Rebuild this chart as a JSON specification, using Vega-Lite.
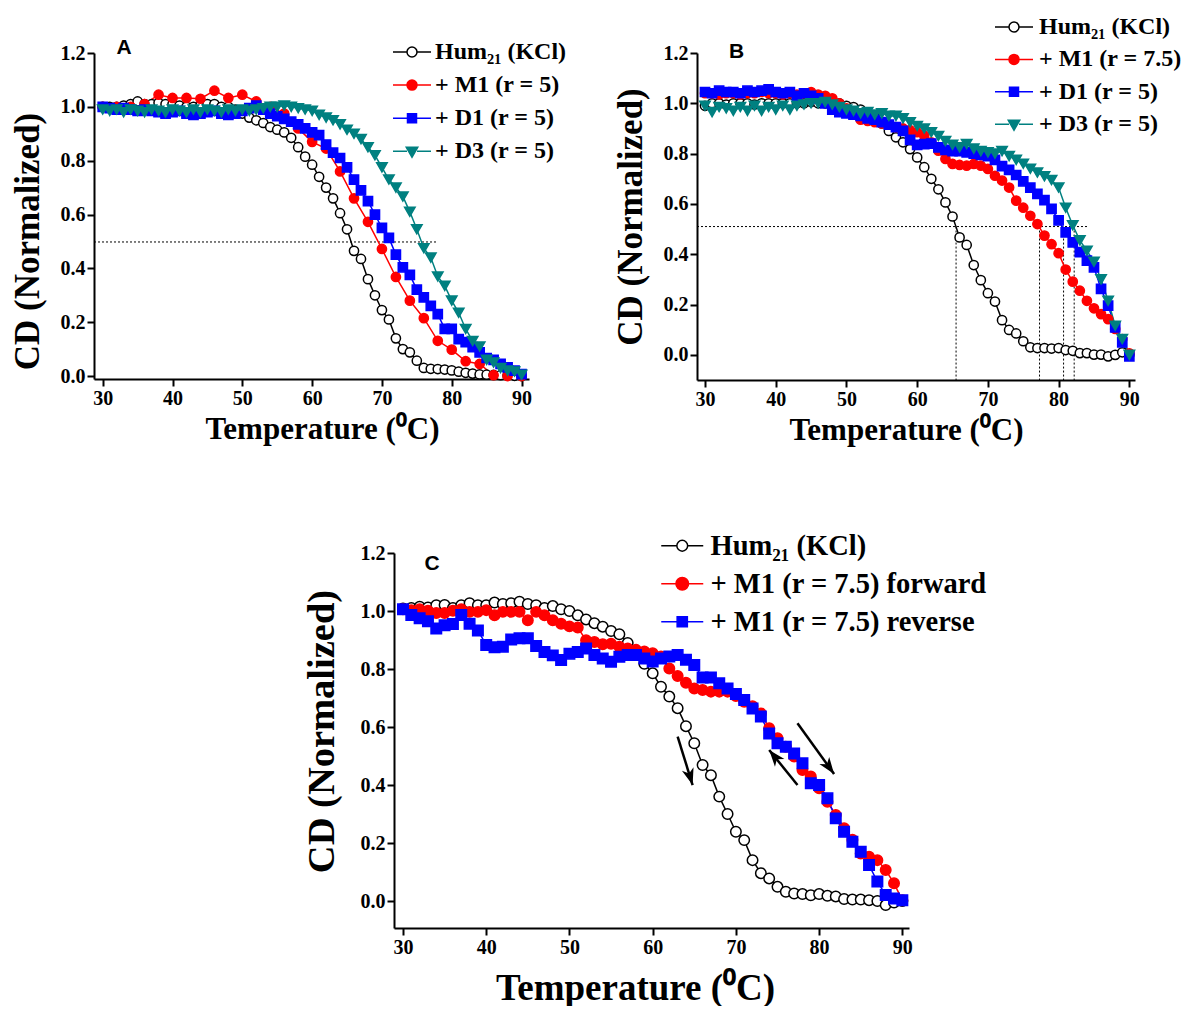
{
"$schema":"https://vega.github.io/schema/vega-lite/v6.json",
"padding":{"left":10,"top":15,"right":0,"bottom":0},
"background":"white",
"config":{
 "view":{"stroke":null},
 "axis":{"domainColor":"black","domainWidth":2,"tickColor":"black","tickWidth":2,"tickSize":7,"labelFont":"Liberation Serif","labelFontWeight":"bold","labelFontSize":20,"labelColor":"black","titleFont":"Liberation Serif","titleFontWeight":"bold","titleColor":"black","grid":false,"labelPadding":2,"labelFlush":false,"labelOverlap":false}
},
"datasets":{
"A":[
{"s":"Hum","t":30,"v":1.0},{"s":"Hum","t":31,"v":1.0},{"s":"Hum","t":32,"v":1.0},{"s":"Hum","t":33,"v":1.005},{"s":"Hum","t":34,"v":1.01},{"s":"Hum","t":35,"v":1.02},{"s":"Hum","t":36,"v":1.01},{"s":"Hum","t":37,"v":1.01},{"s":"Hum","t":38,"v":1.015},{"s":"Hum","t":39,"v":1.01},
{"s":"Hum","t":40,"v":1.01},{"s":"Hum","t":41,"v":1.005},{"s":"Hum","t":42,"v":1.0},{"s":"Hum","t":43,"v":1.0},{"s":"Hum","t":44,"v":1.005},{"s":"Hum","t":45,"v":1.01},{"s":"Hum","t":46,"v":1.01},{"s":"Hum","t":47,"v":1.0},{"s":"Hum","t":48,"v":1.0},{"s":"Hum","t":49,"v":0.99},
{"s":"Hum","t":50,"v":0.975},{"s":"Hum","t":51,"v":0.96},{"s":"Hum","t":52,"v":0.95},{"s":"Hum","t":53,"v":0.94},{"s":"Hum","t":54,"v":0.925},{"s":"Hum","t":55,"v":0.915},{"s":"Hum","t":56,"v":0.905},{"s":"Hum","t":57,"v":0.885},{"s":"Hum","t":58,"v":0.85},{"s":"Hum","t":59,"v":0.815},
{"s":"Hum","t":60,"v":0.785},{"s":"Hum","t":61,"v":0.74},{"s":"Hum","t":62,"v":0.7},{"s":"Hum","t":63,"v":0.66},{"s":"Hum","t":64,"v":0.605},{"s":"Hum","t":65,"v":0.545},{"s":"Hum","t":66,"v":0.465},{"s":"Hum","t":67,"v":0.435},{"s":"Hum","t":68,"v":0.36},{"s":"Hum","t":69,"v":0.3},
{"s":"Hum","t":70,"v":0.245},{"s":"Hum","t":71,"v":0.21},{"s":"Hum","t":72,"v":0.14},{"s":"Hum","t":73,"v":0.1},{"s":"Hum","t":74,"v":0.088},{"s":"Hum","t":75,"v":0.057},{"s":"Hum","t":76,"v":0.03},{"s":"Hum","t":77,"v":0.027},{"s":"Hum","t":78,"v":0.026},{"s":"Hum","t":79,"v":0.024},
{"s":"Hum","t":80,"v":0.021},{"s":"Hum","t":81,"v":0.016},{"s":"Hum","t":82,"v":0.012},{"s":"Hum","t":83,"v":0.009},{"s":"Hum","t":84,"v":0.006},{"s":"Hum","t":85,"v":0.005},{"s":"Hum","t":86,"v":0.004},{"s":"Hum","t":87,"v":0.003},{"s":"Hum","t":88,"v":0.002},{"s":"Hum","t":89,"v":0.001},{"s":"Hum","t":90,"v":0.0},
{"s":"M1","t":30,"v":1.0},{"s":"M1","t":32,"v":1.0},{"s":"M1","t":34,"v":1.0},{"s":"M1","t":36,"v":1.01},{"s":"M1","t":38,"v":1.045},{"s":"M1","t":40,"v":1.033},{"s":"M1","t":42,"v":1.033},{"s":"M1","t":44,"v":1.03},{"s":"M1","t":46,"v":1.06},{"s":"M1","t":48,"v":1.033},
{"s":"M1","t":50,"v":1.045},{"s":"M1","t":52,"v":1.02},{"s":"M1","t":54,"v":1.0},{"s":"M1","t":56,"v":0.975},{"s":"M1","t":58,"v":0.92},{"s":"M1","t":60,"v":0.87},{"s":"M1","t":62,"v":0.845},{"s":"M1","t":64,"v":0.76},{"s":"M1","t":66,"v":0.66},{"s":"M1","t":68,"v":0.573},
{"s":"M1","t":70,"v":0.472},{"s":"M1","t":72,"v":0.368},{"s":"M1","t":74,"v":0.28},{"s":"M1","t":76,"v":0.215},{"s":"M1","t":78,"v":0.131},{"s":"M1","t":80,"v":0.098},{"s":"M1","t":82,"v":0.055},{"s":"M1","t":84,"v":0.045},{"s":"M1","t":86,"v":0.003},{"s":"M1","t":88,"v":0.0},{"s":"M1","t":90,"v":0.0},
{"s":"D1","t":30,"v":1.0},{"s":"D1","t":31,"v":0.995},{"s":"D1","t":32,"v":0.99},{"s":"D1","t":33,"v":0.995},{"s":"D1","t":34,"v":0.99},{"s":"D1","t":35,"v":0.985},{"s":"D1","t":36,"v":0.99},{"s":"D1","t":37,"v":0.985},{"s":"D1","t":38,"v":0.98},{"s":"D1","t":39,"v":0.975},
{"s":"D1","t":40,"v":0.98},{"s":"D1","t":41,"v":0.985},{"s":"D1","t":42,"v":0.975},{"s":"D1","t":43,"v":0.97},{"s":"D1","t":44,"v":0.975},{"s":"D1","t":45,"v":0.98},{"s":"D1","t":46,"v":0.985},{"s":"D1","t":47,"v":0.975},{"s":"D1","t":48,"v":0.97},{"s":"D1","t":49,"v":0.975},
{"s":"D1","t":50,"v":0.985},{"s":"D1","t":51,"v":0.995},{"s":"D1","t":52,"v":1.005},{"s":"D1","t":53,"v":0.99},{"s":"D1","t":54,"v":0.975},{"s":"D1","t":55,"v":0.965},{"s":"D1","t":56,"v":0.955},{"s":"D1","t":57,"v":0.945},{"s":"D1","t":58,"v":0.935},{"s":"D1","t":59,"v":0.92},
{"s":"D1","t":60,"v":0.905},{"s":"D1","t":61,"v":0.895},{"s":"D1","t":62,"v":0.86},{"s":"D1","t":63,"v":0.83},{"s":"D1","t":64,"v":0.81},{"s":"D1","t":65,"v":0.775},{"s":"D1","t":66,"v":0.73},{"s":"D1","t":67,"v":0.69},{"s":"D1","t":68,"v":0.65},{"s":"D1","t":69,"v":0.6},
{"s":"D1","t":70,"v":0.55},{"s":"D1","t":71,"v":0.513},{"s":"D1","t":72,"v":0.451},{"s":"D1","t":73,"v":0.404},{"s":"D1","t":74,"v":0.376},{"s":"D1","t":75,"v":0.321},{"s":"D1","t":76,"v":0.292},{"s":"D1","t":77,"v":0.261},{"s":"D1","t":78,"v":0.23},{"s":"D1","t":79,"v":0.175},
{"s":"D1","t":80,"v":0.175},{"s":"D1","t":81,"v":0.137},{"s":"D1","t":82,"v":0.126},{"s":"D1","t":83,"v":0.107},{"s":"D1","t":84,"v":0.088},{"s":"D1","t":85,"v":0.067},{"s":"D1","t":86,"v":0.06},{"s":"D1","t":87,"v":0.045},{"s":"D1","t":88,"v":0.032},{"s":"D1","t":89,"v":0.02},{"s":"D1","t":90,"v":0.007},
{"s":"D3","t":30,"v":0.99},{"s":"D3","t":31,"v":0.985},{"s":"D3","t":32,"v":0.99},{"s":"D3","t":33,"v":0.98},{"s":"D3","t":34,"v":0.99},{"s":"D3","t":35,"v":0.985},{"s":"D3","t":36,"v":0.98},{"s":"D3","t":37,"v":0.99},{"s":"D3","t":38,"v":0.985},{"s":"D3","t":39,"v":0.98},
{"s":"D3","t":40,"v":0.99},{"s":"D3","t":41,"v":0.985},{"s":"D3","t":42,"v":0.98},{"s":"D3","t":43,"v":0.99},{"s":"D3","t":44,"v":0.98},{"s":"D3","t":45,"v":0.99},{"s":"D3","t":46,"v":0.985},{"s":"D3","t":47,"v":0.98},{"s":"D3","t":48,"v":0.99},{"s":"D3","t":49,"v":0.985},
{"s":"D3","t":50,"v":0.99},{"s":"D3","t":51,"v":0.985},{"s":"D3","t":52,"v":0.99},{"s":"D3","t":53,"v":0.995},{"s":"D3","t":54,"v":1.0},{"s":"D3","t":55,"v":1.0},{"s":"D3","t":56,"v":1.005},{"s":"D3","t":57,"v":1.0},{"s":"D3","t":58,"v":0.995},{"s":"D3","t":59,"v":0.99},
{"s":"D3","t":60,"v":0.985},{"s":"D3","t":61,"v":0.97},{"s":"D3","t":62,"v":0.96},{"s":"D3","t":63,"v":0.95},{"s":"D3","t":64,"v":0.935},{"s":"D3","t":65,"v":0.915},{"s":"D3","t":66,"v":0.9},{"s":"D3","t":67,"v":0.88},{"s":"D3","t":68,"v":0.85},{"s":"D3","t":69,"v":0.82},
{"s":"D3","t":70,"v":0.775},{"s":"D3","t":71,"v":0.73},{"s":"D3","t":72,"v":0.7},{"s":"D3","t":73,"v":0.667},{"s":"D3","t":74,"v":0.61},{"s":"D3","t":75,"v":0.545},{"s":"D3","t":76,"v":0.475},{"s":"D3","t":77,"v":0.44},{"s":"D3","t":78,"v":0.37},{"s":"D3","t":79,"v":0.335},
{"s":"D3","t":80,"v":0.28},{"s":"D3","t":81,"v":0.235},{"s":"D3","t":82,"v":0.175},{"s":"D3","t":83,"v":0.13},{"s":"D3","t":84,"v":0.11},{"s":"D3","t":85,"v":0.06},{"s":"D3","t":86,"v":0.05},{"s":"D3","t":87,"v":0.03},{"s":"D3","t":88,"v":0.02},{"s":"D3","t":89,"v":0.017},{"s":"D3","t":90,"v":0.005}
],
"B":[
{"s":"Hum","t":30,"v":0.99},{"s":"Hum","t":31,"v":1.0},{"s":"Hum","t":32,"v":1.0},{"s":"Hum","t":33,"v":0.995},{"s":"Hum","t":34,"v":1.0},{"s":"Hum","t":35,"v":1.0},{"s":"Hum","t":36,"v":1.0},{"s":"Hum","t":37,"v":0.995},{"s":"Hum","t":38,"v":1.0},{"s":"Hum","t":39,"v":1.0},
{"s":"Hum","t":40,"v":1.0},{"s":"Hum","t":41,"v":1.0},{"s":"Hum","t":42,"v":1.0},{"s":"Hum","t":43,"v":1.0},{"s":"Hum","t":44,"v":1.0},{"s":"Hum","t":45,"v":1.005},{"s":"Hum","t":46,"v":1.0},{"s":"Hum","t":47,"v":1.0},{"s":"Hum","t":48,"v":1.0},{"s":"Hum","t":49,"v":1.0},
{"s":"Hum","t":50,"v":0.99},{"s":"Hum","t":51,"v":0.985},{"s":"Hum","t":52,"v":0.975},{"s":"Hum","t":53,"v":0.96},{"s":"Hum","t":54,"v":0.944},{"s":"Hum","t":55,"v":0.92},{"s":"Hum","t":56,"v":0.89},{"s":"Hum","t":57,"v":0.865},{"s":"Hum","t":58,"v":0.845},{"s":"Hum","t":59,"v":0.818},
{"s":"Hum","t":60,"v":0.785},{"s":"Hum","t":61,"v":0.746},{"s":"Hum","t":62,"v":0.7},{"s":"Hum","t":63,"v":0.658},{"s":"Hum","t":64,"v":0.606},{"s":"Hum","t":65,"v":0.55},{"s":"Hum","t":66,"v":0.467},{"s":"Hum","t":67,"v":0.437},{"s":"Hum","t":68,"v":0.357},{"s":"Hum","t":69,"v":0.297},
{"s":"Hum","t":70,"v":0.245},{"s":"Hum","t":71,"v":0.212},{"s":"Hum","t":72,"v":0.138},{"s":"Hum","t":73,"v":0.099},{"s":"Hum","t":74,"v":0.085},{"s":"Hum","t":75,"v":0.054},{"s":"Hum","t":76,"v":0.03},{"s":"Hum","t":77,"v":0.027},{"s":"Hum","t":78,"v":0.027},{"s":"Hum","t":79,"v":0.025},
{"s":"Hum","t":80,"v":0.027},{"s":"Hum","t":81,"v":0.019},{"s":"Hum","t":82,"v":0.016},{"s":"Hum","t":83,"v":0.007},{"s":"Hum","t":84,"v":0.007},{"s":"Hum","t":85,"v":0.001},{"s":"Hum","t":86,"v":0.001},{"s":"Hum","t":87,"v":-0.006},{"s":"Hum","t":88,"v":0.0},{"s":"Hum","t":89,"v":0.01},{"s":"Hum","t":90,"v":0.0},
{"s":"M1","t":30,"v":1.04},{"s":"M1","t":31,"v":1.04},{"s":"M1","t":32,"v":1.035},{"s":"M1","t":33,"v":1.04},{"s":"M1","t":34,"v":1.04},{"s":"M1","t":35,"v":1.035},{"s":"M1","t":36,"v":1.04},{"s":"M1","t":37,"v":1.04},{"s":"M1","t":38,"v":1.045},{"s":"M1","t":39,"v":1.04},
{"s":"M1","t":40,"v":1.04},{"s":"M1","t":41,"v":1.035},{"s":"M1","t":42,"v":1.04},{"s":"M1","t":43,"v":1.035},{"s":"M1","t":44,"v":1.04},{"s":"M1","t":45,"v":1.045},{"s":"M1","t":46,"v":1.035},{"s":"M1","t":47,"v":1.03},{"s":"M1","t":48,"v":1.02},{"s":"M1","t":49,"v":1.0},
{"s":"M1","t":50,"v":0.98},{"s":"M1","t":51,"v":0.955},{"s":"M1","t":52,"v":0.935},{"s":"M1","t":53,"v":0.93},{"s":"M1","t":54,"v":0.925},{"s":"M1","t":55,"v":0.92},{"s":"M1","t":56,"v":0.915},{"s":"M1","t":57,"v":0.905},{"s":"M1","t":58,"v":0.9},{"s":"M1","t":59,"v":0.893},
{"s":"M1","t":60,"v":0.885},{"s":"M1","t":61,"v":0.872},{"s":"M1","t":62,"v":0.845},{"s":"M1","t":63,"v":0.812},{"s":"M1","t":64,"v":0.779},{"s":"M1","t":65,"v":0.759},{"s":"M1","t":66,"v":0.755},{"s":"M1","t":67,"v":0.752},{"s":"M1","t":68,"v":0.759},{"s":"M1","t":69,"v":0.752},
{"s":"M1","t":70,"v":0.739},{"s":"M1","t":71,"v":0.712},{"s":"M1","t":72,"v":0.693},{"s":"M1","t":73,"v":0.665},{"s":"M1","t":74,"v":0.613},{"s":"M1","t":75,"v":0.585},{"s":"M1","t":76,"v":0.553},{"s":"M1","t":77,"v":0.52},{"s":"M1","t":78,"v":0.474},{"s":"M1","t":79,"v":0.44},
{"s":"M1","t":80,"v":0.404},{"s":"M1","t":81,"v":0.339},{"s":"M1","t":82,"v":0.291},{"s":"M1","t":83,"v":0.255},{"s":"M1","t":84,"v":0.215},{"s":"M1","t":85,"v":0.185},{"s":"M1","t":86,"v":0.162},{"s":"M1","t":87,"v":0.142},{"s":"M1","t":88,"v":0.103},{"s":"M1","t":89,"v":0.063},{"s":"M1","t":90,"v":0.006},
{"s":"D1","t":30,"v":1.045},{"s":"D1","t":31,"v":1.04},{"s":"D1","t":32,"v":1.05},{"s":"D1","t":33,"v":1.045},{"s":"D1","t":34,"v":1.045},{"s":"D1","t":35,"v":1.04},{"s":"D1","t":36,"v":1.05},{"s":"D1","t":37,"v":1.045},{"s":"D1","t":38,"v":1.05},{"s":"D1","t":39,"v":1.055},
{"s":"D1","t":40,"v":1.045},{"s":"D1","t":41,"v":1.04},{"s":"D1","t":42,"v":1.045},{"s":"D1","t":43,"v":1.03},{"s":"D1","t":44,"v":1.04},{"s":"D1","t":45,"v":1.03},{"s":"D1","t":46,"v":1.02},{"s":"D1","t":47,"v":1.0},{"s":"D1","t":48,"v":0.975},{"s":"D1","t":49,"v":0.965},
{"s":"D1","t":50,"v":0.96},{"s":"D1","t":51,"v":0.955},{"s":"D1","t":52,"v":0.95},{"s":"D1","t":53,"v":0.94},{"s":"D1","t":54,"v":0.935},{"s":"D1","t":55,"v":0.925},{"s":"D1","t":56,"v":0.915},{"s":"D1","t":57,"v":0.905},{"s":"D1","t":58,"v":0.89},{"s":"D1","t":59,"v":0.855},
{"s":"D1","t":60,"v":0.835},{"s":"D1","t":61,"v":0.838},{"s":"D1","t":62,"v":0.84},{"s":"D1","t":63,"v":0.825},{"s":"D1","t":64,"v":0.815},{"s":"D1","t":65,"v":0.81},{"s":"D1","t":66,"v":0.81},{"s":"D1","t":67,"v":0.805},{"s":"D1","t":68,"v":0.8},{"s":"D1","t":69,"v":0.795},
{"s":"D1","t":70,"v":0.79},{"s":"D1","t":71,"v":0.775},{"s":"D1","t":72,"v":0.75},{"s":"D1","t":73,"v":0.735},{"s":"D1","t":74,"v":0.715},{"s":"D1","t":75,"v":0.69},{"s":"D1","t":76,"v":0.665},{"s":"D1","t":77,"v":0.64},{"s":"D1","t":78,"v":0.615},{"s":"D1","t":79,"v":0.58},
{"s":"D1","t":80,"v":0.535},{"s":"D1","t":81,"v":0.487},{"s":"D1","t":82,"v":0.447},{"s":"D1","t":83,"v":0.408},{"s":"D1","t":84,"v":0.375},{"s":"D1","t":85,"v":0.348},{"s":"D1","t":86,"v":0.262},{"s":"D1","t":87,"v":0.196},{"s":"D1","t":88,"v":0.109},{"s":"D1","t":89,"v":0.05},{"s":"D1","t":90,"v":-0.006},
{"s":"D3","t":30,"v":0.99},{"s":"D3","t":31,"v":0.965},{"s":"D3","t":32,"v":0.985},{"s":"D3","t":33,"v":0.98},{"s":"D3","t":34,"v":0.97},{"s":"D3","t":35,"v":0.985},{"s":"D3","t":36,"v":0.97},{"s":"D3","t":37,"v":0.99},{"s":"D3","t":38,"v":0.97},{"s":"D3","t":39,"v":0.985},
{"s":"D3","t":40,"v":0.975},{"s":"D3","t":41,"v":0.99},{"s":"D3","t":42,"v":0.975},{"s":"D3","t":43,"v":0.99},{"s":"D3","t":44,"v":0.995},{"s":"D3","t":45,"v":1.0},{"s":"D3","t":46,"v":1.0},{"s":"D3","t":47,"v":1.005},{"s":"D3","t":48,"v":0.995},{"s":"D3","t":49,"v":0.985},
{"s":"D3","t":50,"v":0.975},{"s":"D3","t":51,"v":0.97},{"s":"D3","t":52,"v":0.96},{"s":"D3","t":53,"v":0.965},{"s":"D3","t":54,"v":0.955},{"s":"D3","t":55,"v":0.96},{"s":"D3","t":56,"v":0.95},{"s":"D3","t":57,"v":0.95},{"s":"D3","t":58,"v":0.94},{"s":"D3","t":59,"v":0.925},
{"s":"D3","t":60,"v":0.91},{"s":"D3","t":61,"v":0.9},{"s":"D3","t":62,"v":0.885},{"s":"D3","t":63,"v":0.87},{"s":"D3","t":64,"v":0.85},{"s":"D3","t":65,"v":0.835},{"s":"D3","t":66,"v":0.825},{"s":"D3","t":67,"v":0.838},{"s":"D3","t":68,"v":0.82},{"s":"D3","t":69,"v":0.81},
{"s":"D3","t":70,"v":0.805},{"s":"D3","t":71,"v":0.8},{"s":"D3","t":72,"v":0.81},{"s":"D3","t":73,"v":0.79},{"s":"D3","t":74,"v":0.775},{"s":"D3","t":75,"v":0.76},{"s":"D3","t":76,"v":0.74},{"s":"D3","t":77,"v":0.725},{"s":"D3","t":78,"v":0.71},{"s":"D3","t":79,"v":0.695},
{"s":"D3","t":80,"v":0.665},{"s":"D3","t":81,"v":0.585},{"s":"D3","t":82,"v":0.515},{"s":"D3","t":83,"v":0.455},{"s":"D3","t":84,"v":0.414},{"s":"D3","t":85,"v":0.37},{"s":"D3","t":86,"v":0.3},{"s":"D3","t":87,"v":0.215},{"s":"D3","t":88,"v":0.116},{"s":"D3","t":89,"v":0.063},{"s":"D3","t":90,"v":0.0}
],
"C":[
{"s":"Hum","t":30,"v":1.009},{"s":"Hum","t":31,"v":1.01},{"s":"Hum","t":32,"v":1.015},{"s":"Hum","t":33,"v":1.012},{"s":"Hum","t":34,"v":1.02},{"s":"Hum","t":35,"v":1.021},{"s":"Hum","t":36,"v":1.01},{"s":"Hum","t":37,"v":1.02},{"s":"Hum","t":38,"v":1.027},{"s":"Hum","t":39,"v":1.02},
{"s":"Hum","t":40,"v":1.02},{"s":"Hum","t":41,"v":1.029},{"s":"Hum","t":42,"v":1.024},{"s":"Hum","t":43,"v":1.027},{"s":"Hum","t":44,"v":1.032},{"s":"Hum","t":45,"v":1.024},{"s":"Hum","t":46,"v":1.02},{"s":"Hum","t":47,"v":1.01},{"s":"Hum","t":48,"v":1.017},{"s":"Hum","t":49,"v":1.006},
{"s":"Hum","t":50,"v":1.0},{"s":"Hum","t":51,"v":0.985},{"s":"Hum","t":52,"v":0.971},{"s":"Hum","t":53,"v":0.958},{"s":"Hum","t":54,"v":0.946},{"s":"Hum","t":55,"v":0.931},{"s":"Hum","t":56,"v":0.92},{"s":"Hum","t":57,"v":0.89},{"s":"Hum","t":58,"v":0.86},{"s":"Hum","t":59,"v":0.818},
{"s":"Hum","t":60,"v":0.785},{"s":"Hum","t":61,"v":0.739},{"s":"Hum","t":62,"v":0.705},{"s":"Hum","t":63,"v":0.665},{"s":"Hum","t":64,"v":0.603},{"s":"Hum","t":65,"v":0.544},{"s":"Hum","t":66,"v":0.469},{"s":"Hum","t":67,"v":0.434},{"s":"Hum","t":68,"v":0.36},{"s":"Hum","t":69,"v":0.3},
{"s":"Hum","t":70,"v":0.239},{"s":"Hum","t":71,"v":0.21},{"s":"Hum","t":72,"v":0.141},{"s":"Hum","t":73,"v":0.096},{"s":"Hum","t":74,"v":0.078},{"s":"Hum","t":75,"v":0.049},{"s":"Hum","t":76,"v":0.032},{"s":"Hum","t":77,"v":0.026},{"s":"Hum","t":78,"v":0.024},{"s":"Hum","t":79,"v":0.02},
{"s":"Hum","t":80,"v":0.024},{"s":"Hum","t":81,"v":0.018},{"s":"Hum","t":82,"v":0.016},{"s":"Hum","t":83,"v":0.007},{"s":"Hum","t":84,"v":0.005},{"s":"Hum","t":85,"v":0.005},{"s":"Hum","t":86,"v":0.003},{"s":"Hum","t":87,"v":0.0},{"s":"Hum","t":88,"v":-0.014},{"s":"Hum","t":89,"v":-0.005},{"s":"Hum","t":90,"v":0.0},
{"s":"fwd","t":30,"v":1.006},{"s":"fwd","t":31,"v":1.003},{"s":"fwd","t":32,"v":1.006},{"s":"fwd","t":33,"v":1.001},{"s":"fwd","t":34,"v":0.993},{"s":"fwd","t":35,"v":0.993},{"s":"fwd","t":36,"v":1.001},{"s":"fwd","t":37,"v":1.006},{"s":"fwd","t":38,"v":0.997},{"s":"fwd","t":39,"v":0.997},
{"s":"fwd","t":40,"v":1.003},{"s":"fwd","t":41,"v":0.985},{"s":"fwd","t":42,"v":0.997},{"s":"fwd","t":43,"v":0.997},{"s":"fwd","t":44,"v":0.997},{"s":"fwd","t":45,"v":0.968},{"s":"fwd","t":46,"v":0.997},{"s":"fwd","t":47,"v":0.985},{"s":"fwd","t":48,"v":0.968},{"s":"fwd","t":49,"v":0.956},
{"s":"fwd","t":50,"v":0.947},{"s":"fwd","t":51,"v":0.943},{"s":"fwd","t":52,"v":0.899},{"s":"fwd","t":53,"v":0.893},{"s":"fwd","t":54,"v":0.885},{"s":"fwd","t":55,"v":0.887},{"s":"fwd","t":56,"v":0.877},{"s":"fwd","t":57,"v":0.871},{"s":"fwd","t":58,"v":0.866},{"s":"fwd","t":59,"v":0.86},
{"s":"fwd","t":60,"v":0.854},{"s":"fwd","t":61,"v":0.843},{"s":"fwd","t":62,"v":0.802},{"s":"fwd","t":63,"v":0.776},{"s":"fwd","t":64,"v":0.753},{"s":"fwd","t":65,"v":0.733},{"s":"fwd","t":66,"v":0.728},{"s":"fwd","t":67,"v":0.722},{"s":"fwd","t":68,"v":0.722},{"s":"fwd","t":69,"v":0.722},
{"s":"fwd","t":70,"v":0.707},{"s":"fwd","t":71,"v":0.687},{"s":"fwd","t":72,"v":0.672},{"s":"fwd","t":73,"v":0.647},{"s":"fwd","t":74,"v":0.596},{"s":"fwd","t":75,"v":0.561},{"s":"fwd","t":76,"v":0.532},{"s":"fwd","t":77,"v":0.498},{"s":"fwd","t":78,"v":0.452},{"s":"fwd","t":79,"v":0.429},
{"s":"fwd","t":80,"v":0.389},{"s":"fwd","t":81,"v":0.342},{"s":"fwd","t":82,"v":0.297},{"s":"fwd","t":83,"v":0.251},{"s":"fwd","t":84,"v":0.211},{"s":"fwd","t":85,"v":0.164},{"s":"fwd","t":86,"v":0.153},{"s":"fwd","t":87,"v":0.141},{"s":"fwd","t":88,"v":0.107},{"s":"fwd","t":89,"v":0.061},{"s":"fwd","t":90,"v":0.003},
{"s":"rev","t":30,"v":1.006},{"s":"rev","t":31,"v":0.986},{"s":"rev","t":32,"v":0.975},{"s":"rev","t":33,"v":0.965},{"s":"rev","t":34,"v":0.94},{"s":"rev","t":35,"v":0.951},{"s":"rev","t":36,"v":0.955},{"s":"rev","t":37,"v":0.986},{"s":"rev","t":38,"v":0.956},{"s":"rev","t":39,"v":0.933},
{"s":"rev","t":40,"v":0.883},{"s":"rev","t":41,"v":0.875},{"s":"rev","t":42,"v":0.877},{"s":"rev","t":43,"v":0.902},{"s":"rev","t":44,"v":0.906},{"s":"rev","t":45,"v":0.906},{"s":"rev","t":46,"v":0.879},{"s":"rev","t":47,"v":0.859},{"s":"rev","t":48,"v":0.847},{"s":"rev","t":49,"v":0.831},
{"s":"rev","t":50,"v":0.853},{"s":"rev","t":51,"v":0.859},{"s":"rev","t":52,"v":0.871},{"s":"rev","t":53,"v":0.848},{"s":"rev","t":54,"v":0.836},{"s":"rev","t":55,"v":0.825},{"s":"rev","t":56,"v":0.842},{"s":"rev","t":57,"v":0.848},{"s":"rev","t":58,"v":0.848},{"s":"rev","t":59,"v":0.836},
{"s":"rev","t":60,"v":0.826},{"s":"rev","t":61,"v":0.836},{"s":"rev","t":62,"v":0.843},{"s":"rev","t":63,"v":0.848},{"s":"rev","t":64,"v":0.832},{"s":"rev","t":65,"v":0.814},{"s":"rev","t":66,"v":0.771},{"s":"rev","t":67,"v":0.771},{"s":"rev","t":68,"v":0.751},{"s":"rev","t":69,"v":0.733},
{"s":"rev","t":70,"v":0.714},{"s":"rev","t":71,"v":0.693},{"s":"rev","t":72,"v":0.664},{"s":"rev","t":73,"v":0.636},{"s":"rev","t":74,"v":0.578},{"s":"rev","t":75,"v":0.544},{"s":"rev","t":76,"v":0.532},{"s":"rev","t":77,"v":0.509},{"s":"rev","t":78,"v":0.475},{"s":"rev","t":79,"v":0.406},
{"s":"rev","t":80,"v":0.4},{"s":"rev","t":81,"v":0.354},{"s":"rev","t":82,"v":0.285},{"s":"rev","t":83,"v":0.239},{"s":"rev","t":84,"v":0.204},{"s":"rev","t":85,"v":0.17},{"s":"rev","t":86,"v":0.124},{"s":"rev","t":87,"v":0.067},{"s":"rev","t":88,"v":0.021},{"s":"rev","t":89,"v":0.009},{"s":"rev","t":90,"v":0.003}
],
"refA":[{"t":28.75,"v":0.498,"t2":77.8,"v2":0.498}],
"refB":[{"t":28.87,"v":0.51,"t2":84.1,"v2":0.51},{"t":65.5,"v":0.51,"t2":65.5,"v2":-0.1},{"t":77.3,"v":0.51,"t2":77.3,"v2":-0.1},{"t":80.7,"v":0.51,"t2":80.7,"v2":-0.1},{"t":82.2,"v":0.51,"t2":82.2,"v2":-0.1}],
"arrows":[{"id":1,"t":63.0,"v":0.567,"t2":64.8,"v2":0.4},{"id":2,"t":77.4,"v":0.4,"t2":74.0,"v2":0.521},{"id":3,"t":77.4,"v":0.613,"t2":81.8,"v2":0.438}],
"heads":[{"id":1,"t":64.8,"v":0.4},{"id":2,"t":74.0,"v":0.521},{"id":3,"t":81.8,"v":0.438}],
"labA":[{"label":"A","t":33.05,"v":1.218}],
"labB":[{"label":"B","t":34.45,"v":1.205}],
"labC":[{"label":"C","t":33.5,"v":1.162}]
},
"resolve":{"scale":{"x":"independent","y":"independent","stroke":"independent","fill":"independent","shape":"independent"},"legend":{"stroke":"independent","fill":"independent","shape":"independent"},"axis":{"x":"independent","y":"independent"}},
"spacing":86,
"vconcat":[
{"spacing":46,
 "resolve":{"scale":{"x":"independent","y":"independent","stroke":"independent","fill":"independent","shape":"independent"},"legend":{"stroke":"independent","fill":"independent","shape":"independent"},"axis":{"x":"independent","y":"independent"}},
 "hconcat":[
 {"width":435,"height":326,
  "encoding":{
   "x":{"field":"t","type":"quantitative","scale":{"domain":[28.75,91.07],"nice":false,"zero":false},"axis":{"values":[30,40,50,60,70,80,90],"title":"Temperature (⁰C)","titleFontSize":31,"titlePadding":6,"titleX":228}},
   "y":{"field":"v","type":"quantitative","scale":{"domain":[-0.011,1.2],"nice":false,"zero":false},"axis":{"values":[0,0.2,0.4,0.6,0.8,1,1.2],"format":".1f","title":"CD (Normalized)","titleFontSize":35,"titlePadding":15,"titleY":188}}
  },
  "layer":[
   {"data":{"name":"refA"},"mark":{"type":"rule","strokeDash":[2,2],"strokeWidth":1,"color":"black"},"encoding":{"x2":{"field":"t2"},"y2":{"field":"v2"}}},
   {"data":{"name":"A"},"mark":{"type":"line","strokeWidth":1.5},
    "encoding":{"stroke":{"field":"s","type":"nominal","scale":{"domain":["Hum","M1","D1","D3"],"range":["black","#ff0000","#0000ff","#008080"]},
     "legend":{"orient":"none","legendX":306,"legendY":-13,"title":null,"padding":0,"labelFont":"Liberation Serif","labelFontWeight":"bold","labelFontSize":24,"labelColor":"black","labelLimit":500,"symbolSize":100,"symbolStrokeWidth":1.5,"symbolOpacity":1,"labelOffset":11,"rowPadding":9.1,
      "labelExpr":"datum.value == 'Hum' ? 'Hum₂₁ (KCl)' : datum.value == 'M1' ? '+ M1 (r = 5)' : datum.value == 'D1' ? '+ D1 (r = 5)' : '+ D3 (r = 5)'"}}}},
   {"data":{"name":"A"},"transform":[{"filter":{"field":"s","oneOf":["Hum","M1"]}}],"mark":{"type":"point","shape":"circle","filled":true,"opacity":1,"size":85,"strokeWidth":1.5},
    "encoding":{"stroke":{"field":"s","type":"nominal"},"fill":{"field":"s","type":"nominal","scale":{"domain":["Hum","M1","D1","D3"],"range":["white","#ff0000","#0000ff","#008080"]}}}},
   {"data":{"name":"A"},"transform":[{"filter":{"field":"s","equal":"D1"}}],"mark":{"type":"point","shape":"square","filled":true,"opacity":1,"size":85,"strokeWidth":1.5},
    "encoding":{"stroke":{"field":"s","type":"nominal"},"fill":{"field":"s","type":"nominal"}}},
   {"data":{"name":"A"},"transform":[{"filter":{"field":"s","equal":"D3"}}],"mark":{"type":"point","shape":"triangle-down","filled":true,"opacity":1,"size":110,"strokeWidth":1.5},
    "encoding":{"stroke":{"field":"s","type":"nominal"},"fill":{"field":"s","type":"nominal"}}},
   {"data":{"values":[]},"mark":{"type":"point","filled":true,"opacity":1,"strokeWidth":1.5},
    "encoding":{"stroke":{"field":"s","type":"nominal"},"fill":{"field":"s","type":"nominal"},
     "shape":{"field":"s","type":"nominal","scale":{"domain":["Hum","M1","D1","D3"],"range":["M-3.8,0H-1M1,0H3.8M1,0A1,1,0,1,1,-1,0A1,1,0,1,1,1,0Z","M-3.8,0H-1M1,0H3.8M1,0A1,1,0,1,1,-1,0A1,1,0,1,1,1,0Z","M-3.8,0H-0.9M0.9,0H3.8M-0.9,-0.9H0.9V0.9H-0.9Z","M-3.8,0H-1M1,0H3.8M-1.15,-0.8H1.15L0,1.2Z"]}}}},
   {"data":{"name":"labA"},"mark":{"type":"text","font":"Liberation Sans","fontWeight":"bold","fontSize":21,"color":"black","baseline":"middle","align":"center"},"encoding":{"text":{"field":"label"}}}
  ]},
 {"width":438,"height":327,
  "encoding":{
   "x":{"field":"t","type":"quantitative","scale":{"domain":[28.87,90.8],"nice":false,"zero":false},"axis":{"values":[30,40,50,60,70,80,90],"title":"Temperature (⁰C)","titleFontSize":31,"titlePadding":6,"titleX":209}},
   "y":{"field":"v","type":"quantitative","scale":{"domain":[-0.1,1.2],"nice":false,"zero":false},"axis":{"values":[0,0.2,0.4,0.6,0.8,1,1.2],"format":".1f","title":"CD (Normalized)","titleFontSize":35,"titlePadding":15}}
  },
  "layer":[
   {"data":{"name":"refB"},"mark":{"type":"rule","strokeDash":[2,2],"strokeWidth":1,"color":"black"},"encoding":{"x2":{"field":"t2"},"y2":{"field":"v2"}}},
   {"data":{"name":"B"},"mark":{"type":"line","strokeWidth":1.5},
    "encoding":{"stroke":{"field":"s","type":"nominal","scale":{"domain":["Hum","M1","D1","D3"],"range":["black","#ff0000","#0000ff","#008080"]},
     "legend":{"orient":"none","legendX":305,"legendY":-38,"title":null,"padding":0,"labelFont":"Liberation Serif","labelFontWeight":"bold","labelFontSize":24,"labelColor":"black","labelLimit":500,"symbolSize":100,"symbolStrokeWidth":1.5,"symbolOpacity":1,"labelOffset":13,"rowPadding":8.4,
      "labelExpr":"datum.value == 'Hum' ? 'Hum₂₁ (KCl)' : datum.value == 'M1' ? '+ M1 (r = 7.5)' : datum.value == 'D1' ? '+ D1 (r = 5)' : '+ D3 (r = 5)'"}}}},
   {"data":{"name":"B"},"transform":[{"filter":{"field":"s","oneOf":["Hum","M1"]}}],"mark":{"type":"point","shape":"circle","filled":true,"opacity":1,"size":85,"strokeWidth":1.5},
    "encoding":{"stroke":{"field":"s","type":"nominal"},"fill":{"field":"s","type":"nominal","scale":{"domain":["Hum","M1","D1","D3"],"range":["white","#ff0000","#0000ff","#008080"]}}}},
   {"data":{"name":"B"},"transform":[{"filter":{"field":"s","equal":"D1"}}],"mark":{"type":"point","shape":"square","filled":true,"opacity":1,"size":85,"strokeWidth":1.5},
    "encoding":{"stroke":{"field":"s","type":"nominal"},"fill":{"field":"s","type":"nominal"}}},
   {"data":{"name":"B"},"transform":[{"filter":{"field":"s","equal":"D3"}}],"mark":{"type":"point","shape":"triangle-down","filled":true,"opacity":1,"size":110,"strokeWidth":1.5},
    "encoding":{"stroke":{"field":"s","type":"nominal"},"fill":{"field":"s","type":"nominal"}}},
   {"data":{"values":[]},"mark":{"type":"point","filled":true,"opacity":1,"strokeWidth":1.5},
    "encoding":{"stroke":{"field":"s","type":"nominal"},"fill":{"field":"s","type":"nominal"},
     "shape":{"field":"s","type":"nominal","scale":{"domain":["Hum","M1","D1","D3"],"range":["M-3.8,0H-1M1,0H3.8M1,0A1,1,0,1,1,-1,0A1,1,0,1,1,1,0Z","M-3.8,0H-1M1,0H3.8M1,0A1,1,0,1,1,-1,0A1,1,0,1,1,1,0Z","M-3.8,0H-0.9M0.9,0H3.8M-0.9,-0.9H0.9V0.9H-0.9Z","M-3.8,0H-1M1,0H3.8M-1.15,-0.8H1.15L0,1.2Z"]}}}},
   {"data":{"name":"labB"},"mark":{"type":"text","font":"Liberation Sans","fontWeight":"bold","fontSize":21,"color":"black","baseline":"middle","align":"center"},"encoding":{"text":{"field":"label"}}}
  ]}
 ]},
{"spacing":0,
 "resolve":{"scale":{"x":"independent","y":"independent","stroke":"independent","fill":"independent","shape":"independent"},"legend":{"stroke":"independent","fill":"independent","shape":"independent"},"axis":{"x":"independent","y":"independent"}},
 "hconcat":[
 {"width":208,"height":20,"data":{"values":[]},"mark":"point"},
 {"width":515,"height":375,
  "encoding":{
   "x":{"field":"t","type":"quantitative","scale":{"domain":[28.92,90.8],"nice":false,"zero":false},"axis":{"values":[30,40,50,60,70,80,90],"title":"Temperature (⁰C)","titleFontSize":37,"titlePadding":13,"titleX":241}},
   "y":{"field":"v","type":"quantitative","scale":{"domain":[-0.093,1.2],"nice":false,"zero":false},"axis":{"values":[0,0.2,0.4,0.6,0.8,1,1.2],"format":".1f","title":"CD (Normalized)","titleFontSize":38.5,"titlePadding":19,"titleY":178}}
  },
  "layer":[
   {"data":{"name":"C"},"mark":{"type":"line","strokeWidth":1.5},
    "encoding":{"stroke":{"field":"s","type":"nominal","scale":{"domain":["Hum","fwd","rev"],"range":["black","#ff0000","#0000ff"]},
     "legend":{"orient":"none","legendX":274,"legendY":-21.5,"title":null,"padding":0,"labelFont":"Liberation Serif","labelFontWeight":"bold","labelFontSize":28.5,"labelColor":"black","labelLimit":600,"symbolSize":144,"symbolStrokeWidth":1.5,"symbolOpacity":1,"labelOffset":14,"rowPadding":9,
      "labelExpr":"datum.value == 'Hum' ? 'Hum₂₁ (KCl)' : datum.value == 'fwd' ? '+ M1 (r = 7.5) forward' : '+ M1 (r = 7.5) reverse'"}}}},
   {"data":{"name":"C"},"transform":[{"filter":{"field":"s","oneOf":["Hum","fwd"]}}],"mark":{"type":"point","shape":"circle","filled":true,"opacity":1,"size":110,"strokeWidth":1.5},
    "encoding":{"stroke":{"field":"s","type":"nominal"},"fill":{"field":"s","type":"nominal","scale":{"domain":["Hum","fwd","rev"],"range":["white","#ff0000","#0000ff"]}}}},
   {"data":{"name":"C"},"transform":[{"filter":{"field":"s","equal":"rev"}}],"mark":{"type":"point","shape":"square","filled":true,"opacity":1,"size":110,"strokeWidth":1.5},
    "encoding":{"stroke":{"field":"s","type":"nominal"},"fill":{"field":"s","type":"nominal"}}},
   {"data":{"values":[]},"mark":{"type":"point","filled":true,"opacity":1,"strokeWidth":1.5},
    "encoding":{"stroke":{"field":"s","type":"nominal"},"fill":{"field":"s","type":"nominal"},
     "shape":{"field":"s","type":"nominal","scale":{"domain":["Hum","fwd","rev"],"range":["M-3.5,0H-0.9M0.9,0H3.5M0.9,0A0.9,0.9,0,1,1,-0.9,0A0.9,0.9,0,1,1,0.9,0Z","M-3.5,0H-1.05M1.05,0H3.5M1.05,0A1.05,1.05,0,1,1,-1.05,0A1.05,1.05,0,1,1,1.05,0Z","M-3.5,0H-0.85M0.85,0H3.5M-0.85,-0.85H0.85V0.85H-0.85Z"]}}}},
   {"data":{"name":"arrows"},"mark":{"type":"rule","strokeWidth":2.5,"color":"black"},"encoding":{"x2":{"field":"t2"},"y2":{"field":"v2"}}},
   {"data":{"name":"heads"},"transform":[{"filter":"datum.id == 1"}],"mark":{"type":"point","shape":"M0,0L-0.8,2.2L0,1.6L0.8,2.2Z","filled":true,"size":230,"angle":163,"color":"black","opacity":1}},
   {"data":{"name":"heads"},"transform":[{"filter":"datum.id == 2"}],"mark":{"type":"point","shape":"M0,0L-0.8,2.2L0,1.6L0.8,2.2Z","filled":true,"size":230,"angle":321,"color":"black","opacity":1}},
   {"data":{"name":"heads"},"transform":[{"filter":"datum.id == 3"}],"mark":{"type":"point","shape":"M0,0L-0.8,2.2L0,1.6L0.8,2.2Z","filled":true,"size":230,"angle":144,"color":"black","opacity":1}},
   {"data":{"name":"labC"},"mark":{"type":"text","font":"Liberation Sans","fontWeight":"bold","fontSize":21,"color":"black","baseline":"middle","align":"center"},"encoding":{"text":{"field":"label"}}}
  ]}
 ]}
]
}
